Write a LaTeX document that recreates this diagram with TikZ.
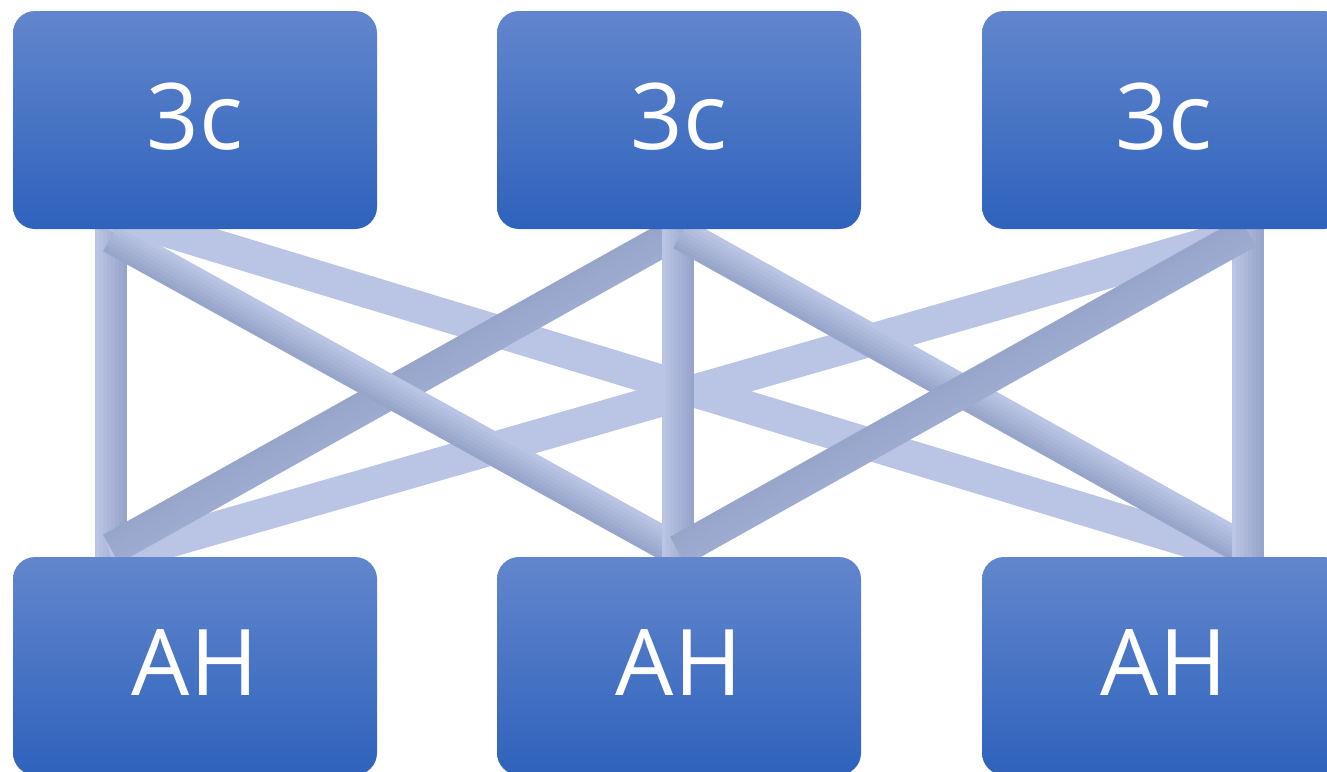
\documentclass[tikz,border=0pt]{standalone}
\usepackage{fontspec}
\setmainfont{Open Sans}
\usetikzlibrary{calc}

\definecolor{boxtop}{HTML}{6286CD}
\definecolor{boxbottom}{HTML}{2E62BC}
\definecolor{linklight}{HTML}{BAC4E4}
\definecolor{linkdark}{HTML}{97A5CB}

% one thick link, shaded across its width (colour on one side, colour on the other)
\newcommand{\linkbar}[4]{%
  \foreach \k in {0,...,7} {
    \pgfmathsetmacro{\off}{-14+4*\k}
    \pgfmathsetmacro{\mix}{100*\k/7}
    \draw[line width=4.6pt, #4!\mix!#3] ($(#1)!\off pt!90:(#2)$) -- ($(#2)!\off pt!-90:(#1)$);
  }%
}

\begin{document}
\begin{tikzpicture}[x=1pt, y=-1pt,
    box/.style={rectangle, rounded corners=22pt, minimum width=364pt, minimum height=218pt,
      inner sep=0pt, top color=boxtop, bottom color=boxbottom, text=white,
      text depth=7pt, font=\fontsize{92}{100}\selectfont}]
    \useasboundingbox (0,0) rectangle (1327,771);
    \clip (0,0) rectangle (1327,771);

    % ends of the links
    \coordinate (v1t) at (111,225);  \coordinate (v1b) at (111,560);
    \coordinate (v2t) at (678,225);  \coordinate (v2b) at (678,560);
    \coordinate (v3t) at (1248,225); \coordinate (v3b) at (1248,560);
    \coordinate (a1) at (111,237);   \coordinate (a2) at (678,551);
    \coordinate (b1) at (111,214);   \coordinate (b2) at (1248,559);
    \coordinate (c1) at (681,234);   \coordinate (c2) at (1248,551);
    \coordinate (d1) at (678,232);   \coordinate (d2) at (111,549);
    \coordinate (e1) at (1248,232);  \coordinate (e2) at (111,558);
    \coordinate (f1) at (1248,232);  \coordinate (f2) at (678,551);

    % links
    \linkbar{v1t}{v1b}{linklight}{linkdark}
    \linkbar{b1}{b2}{linklight}{linklight}
    \linkbar{e1}{e2}{linklight}{linklight}
    \linkbar{d1}{d2}{linkdark}{linkdark!80!linklight}
    \linkbar{a1}{a2}{linkdark}{linklight}
    \linkbar{v2t}{v2b}{linklight}{linkdark}
    \linkbar{c1}{c2}{linkdark}{linklight}
    \linkbar{v3t}{v3b}{linklight}{linkdark}
    \linkbar{f1}{f2}{linkdark}{linkdark!80!linklight}

    % top row
    \node[box] (top1) at (195,120) {3c};
    \node[box] (top2) at (679,120) {3c};
    \node[box] (top3) at (1164,120) {3c};

    % bottom row
    \node[box] (bot1) at (195,666) {AH};
    \node[box] (bot2) at (679,666) {AH};
    \node[box] (bot3) at (1164,666) {AH};
\end{tikzpicture}
\end{document}
